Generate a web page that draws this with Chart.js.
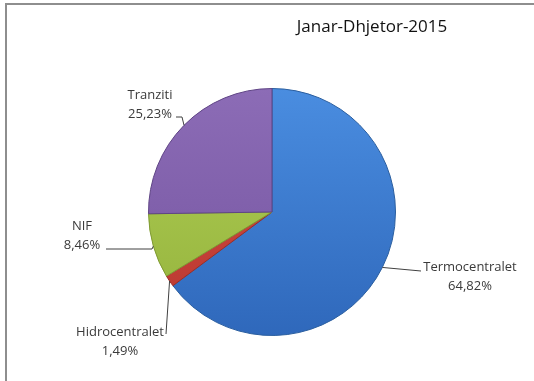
<!DOCTYPE html>
<html>
<head>
<meta charset="utf-8">
<script src="https://cdn.jsdelivr.net/npm/chart.js@4/dist/chart.umd.min.js"></script>
<style>
  html, body { margin: 0; padding: 0; background: #fff; }
  #wrap { position: relative; width: 534px; height: 381px; overflow: hidden; }
  #frame { position: absolute; left: 5px; top: 3px; width: 560px; height: 400px;
           border-top: 2px solid #8e8e8e; border-left: 2px solid #8e8e8e; }
  canvas { position: absolute; left: 0; top: 0; }
</style>
</head>
<body>
<div id="wrap">
  <div id="frame"></div>
  <canvas id="pie" width="534" height="381"></canvas>
</div>
<script>
const title = 'Janar-Dhjetor-2015';
const categories = ['Termocentralet', 'Hidrocentralet', 'NIF', 'Tranziti'];
const shares = [64.82, 1.49, 8.46, 25.23];

// light / dark stops for each slice (top to bottom shading)
const shadeTop = ['#4a8de0', '#d65046', '#b0cf55', '#8c6cb6'];
const shadeBottom = ['#2f68bb', '#b8362f', '#94b23c', '#7454a0'];
const edgeColors = ['#2a5e9f', '#9a2d28', '#7f9a32', '#5f4485'];

// where each label sits and where its leader line leaves the text
const labelSpots = [
  { x: 470, y: 267, lineFrom: [421, 271], elbow: null },
  { x: 120, y: 332, lineFrom: [166, 334], elbow: null },
  { x: 82, y: 226, lineFrom: [106, 249], elbow: [152, 249] },
  { x: 150, y: 95, lineFrom: [176, 117], elbow: [182, 117] }
];

const pct = (v) => v.toFixed(2).replace('.', ',') + '%';

const sliceFill = (ctx) => {
  const area = ctx.chart.chartArea;
  if (!area) return shadeTop[ctx.dataIndex];
  const g = ctx.chart.ctx.createLinearGradient(0, area.top, 0, area.bottom);
  g.addColorStop(0, shadeTop[ctx.dataIndex]);
  g.addColorStop(1, shadeBottom[ctx.dataIndex]);
  return g;
};

const pieLabels = {
  id: 'pieLabels',
  afterDatasetsDraw(chart) {
    const c = chart.ctx;
    const meta = chart.getDatasetMeta(0);
    c.save();
    meta.data.forEach((arc, i) => {
      const mid = (arc.startAngle + arc.endAngle) / 2;
      const ex = arc.x + Math.cos(mid) * arc.outerRadius;
      const ey = arc.y + Math.sin(mid) * arc.outerRadius;
      const spot = labelSpots[i];

      c.strokeStyle = '#404040';
      c.lineWidth = 1;
      c.beginPath();
      c.moveTo(spot.lineFrom[0], spot.lineFrom[1]);
      if (spot.elbow) c.lineTo(spot.elbow[0], spot.elbow[1]);
      c.lineTo(ex, ey);
      c.stroke();

      c.fillStyle = '#3a3a3a';
      c.font = '13px "Open Sans"';
      c.textAlign = 'center';
      c.textBaseline = 'middle';
      c.fillText(categories[i], spot.x, spot.y);
      c.fillText(pct(shares[i]), spot.x, spot.y + 19);
    });

    c.fillStyle = '#111';
    c.font = '17px "Open Sans"';
    c.textAlign = 'center';
    c.textBaseline = 'middle';
    c.fillText(title, 372, 27);
    c.restore();
  }
};

new Chart(document.getElementById('pie'), {
  type: 'pie',
  data: {
    labels: categories,
    datasets: [{
      data: shares,
      backgroundColor: sliceFill,
      borderColor: edgeColors,
      borderWidth: 1
    }]
  },
  options: {
    responsive: false,
    animation: false,
    layout: {
      padding: { left: 148, right: 138, top: 88, bottom: 45 }
    },
    plugins: {
      legend: { display: false },
      tooltip: { enabled: false }
    }
  },
  plugins: [pieLabels]
});
</script>
</body>
</html>
